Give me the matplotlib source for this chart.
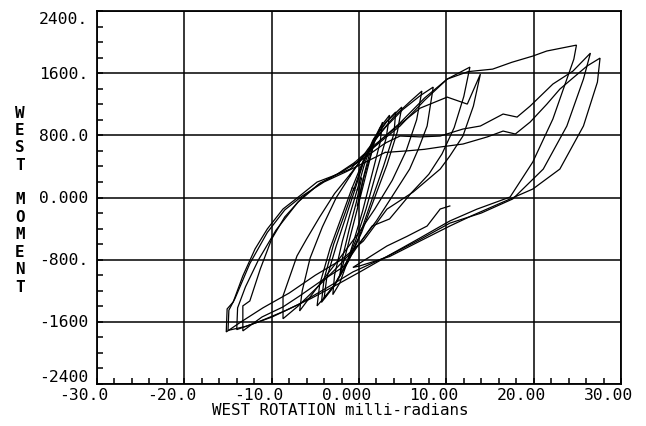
import matplotlib
matplotlib.use("Agg")
import matplotlib.pyplot as plt
from matplotlib.ticker import MultipleLocator
from matplotlib.transforms import blended_transform_factory, ScaledTranslation

# Ciclos de histeresis (rotacion en milli-radianes, momento)
c0_rot = [0.0, 0.6, 1.2, 1.8, 1.5, 0.7, -0.2, -1.0, -1.8, -2.2, -1.9, -1.1, -0.3, 0.3]
c0_mom = [0, 300, 560, 780, 600, 250, -150, -500, -850, -1000, -780, -400, -60, 250]

c1_rot = [-0.2, 0.5, 1.3, 1.9, 2.7, 2.4, 1.4, 0.4, -0.6, -1.4, -2.2, -3.0, -2.8, -1.9, -1.0, -0.2]
c1_mom = [-109, 238, 534, 760, 970, 700, 260, -180, -560, -850, -1100, -1250, -1000, -560, -200, 100]

c2_rot = [-0.2, 0.6, 1.5, 2.4, 3.5, 3.1, 2.0, 0.8, -0.4, -1.6, -2.8, -4.0, -3.7, -2.6, -1.5, -0.5]
c2_mom = [100, 420, 700, 900, 1060, 760, 330, -150, -560, -880, -1120, -1300, -1040, -620, -250, 90]

c3_rot = [-0.5, 0.5, 1.8, 3.2, 4.9, 4.4, 3.2, 1.8, 0.3, -1.2, -2.8, -4.8, -4.5, -3.3, -2.0, -0.8]
c3_mom = [90, 450, 760, 980, 1164, 850, 420, 0, -450, -820, -1130, -1395, -1120, -650, -250, 120]

c3b_rot = [-0.6, 0.4, 1.6, 3.0, 4.2, 4.0, 2.8, 1.5, 0.1, -1.4, -2.9, -4.3, -4.0, -2.9, -1.6, -0.6]
c3b_mom = [100, 430, 740, 960, 1100, 820, 400, -20, -480, -850, -1150, -1350, -1050, -600, -200, 120]

c4_rot = [-0.8, 0.5, 2.2, 4.0, 5.8, 7.2, 6.6, 5.4, 3.8, 1.8, 0.0, -2.2, -4.4, -6.8, -6.5, -5.6, -4.2, -2.6, -1.0]
c4_mom = [120, 480, 800, 1040, 1230, 1370, 1000, 600, 220, -150, -450, -780, -1100, -1460, -1200, -780, -380, 0, 280]

c5_rot = [-1.0, 1.0, 3.0, 5.0, 7.0, 8.5, 7.8, 6.8, 5.8, 4.0, 2.0, 0.0, -2.5, -5.0, -7.0, -8.7,
          -8.7, -7.1, -6.0, -4.5, -2.8, -1.0]
c5_mom = [280, 620, 900, 1130, 1310, 1421, 920, 624, 366, 50, -300, -600, -900, -1180, -1400, -1560,
          -1267, -752, -534, -250, 50, 300]

c6_rot = [-1.0, 0.5, 2.5, 4.7, 7.5, 10.1, 12.7, 12.0, 10.9, 9.5, 8.0, 6.0, 3.5, 1.5, 0.0, -1.8, -4.5,
          -6.8, -8.7, -11.1, -13.3, -13.3, -12.5, -11.3, -10.0, -8.5, -6.5, -4.5, -2.5, -0.5]
c6_mom = [300, 520, 740, 960, 1280, 1524, 1678, 1300, 900, 560, 300, 60, -276, -367, -600, -894, -1087,
          -1267, -1408, -1537, -1717, -1395, -1331, -919, -534, -250, 0, 180, 300, 450]

c7_rot = [-0.5, 1.5, 4.0, 7.0, 10.1, 12.4, 13.9, 13.1, 11.9, 10.4, 9.3, 6.2, 3.2, 0.5, -2.0, -5.0, -8.0,
          -11.0, -13.5, -15.2, -15.1, -14.4, -13.3, -11.9, -10.5, -8.7, -6.8, -4.8, -3.0, -1.0]
c7_mom = [450, 650, 880, 1150, 1292, 1202, 1588, 1177, 791, 534, 366, 70, -150, -560, -800, -1000, -1230,
          -1420, -1600, -1730, -1434, -1344, -1009, -662, -405, -148, 19, 199, 276, 366]

c8_rot = [-1.0, 0.5, 2.5, 4.7, 7.5, 10.1, 12.5, 15.3, 17.5, 19.9, 21.5, 24.9, 24.6, 23.8, 22.2, 19.9,
          17.3, 13.5, 10.4, 7.0, 3.5, 0.1, -2.5, -5.5, -8.5, -11.5, -14.0, -13.9, -13.0, -11.5, -9.5,
          -7.0, -4.5, -2.0, 0.5, 3.0]
c8_mom = [366, 534, 720, 920, 1250, 1524, 1620, 1652, 1740, 1820, 1885, 1961, 1780, 1524, 1010, 457,
          6, -150, -302, -520, -740, -958, -1120, -1300, -1460, -1600, -1700, -1420, -1150, -800, -420,
          -60, 180, 330, 500, 700]

c9_rot = [3.0, 4.7, 7.0, 9.3, 11.9, 13.9, 16.5, 18.1, 19.6, 22.2, 24.5, 26.5, 25.7, 23.8, 21.1, 17.6,
          14.0, 10.4, 7.0, 3.2, -0.7, -3.5, -7.0, -10.0, -13.0, -15.0, -14.9, -14.2, -12.5, -10.5,
          -8.5, -6.5, -4.0, -1.5, 1.0, 3.0]
c9_mom = [700, 791, 780, 791, 881, 920, 1074, 1035, 1177, 1460, 1627, 1858, 1524, 920, 366, -19,
          -200, -330, -540, -760, -958, -1150, -1380, -1540, -1660, -1710, -1450, -1300, -850, -450,
          -160, 20, 200, 330, 470, 580]

c10_rot = [3.0, 5.5, 7.5, 9.3, 11.9, 14.7, 16.5, 17.9, 19.6, 21.5, 23.0, 26.1, 27.6, 27.3, 25.7, 23.0,
           19.9, 17.3, 13.0, 10.4, 7.0, 3.5, 0.1, -0.7, 1.0, 3.2, 5.5, 7.8, 9.3, 10.4]
c10_mom = [580, 600, 620, 650, 688, 780, 855, 817, 971, 1200, 1395, 1691, 1794, 1485, 920, 366,
           109, -19, -230, -367, -560, -760, -880, -900, -780, -624, -500, -367, -148, -109]

ciclos = [(c0_rot, c0_mom), (c1_rot, c1_mom), (c2_rot, c2_mom), (c3_rot, c3_mom),
          (c3b_rot, c3b_mom), (c4_rot, c4_mom), (c5_rot, c5_mom), (c6_rot, c6_mom),
          (c7_rot, c7_mom), (c8_rot, c8_mom), (c9_rot, c9_mom), (c10_rot, c10_mom)]

x_ticks = [-30, -20, -10, 0, 10, 20, 30]
x_labels = ["-30.0", "-20.0", "-10.0", "0.000", "10.00", "20.00", "30.00"]
y_ticks = [-2400, -1600, -800, 0, 800, 1600, 2400]
y_labels = ["-2400", "-1600", "-800.", "0.000", "800.0", "1600.", "2400."]

fuente = "DejaVu Sans Mono"

fig = plt.figure(figsize=(6.46, 4.27), dpi=100)
ax = fig.add_axes([97 / 646, 1 - 385 / 427, 524 / 646, 373 / 427])

for rot, mom in ciclos:
    ax.plot(rot, mom, color="black", lw=0.9, solid_joinstyle="miter")

ax.set_xlim(-30, 30)
ax.set_ylim(-2400, 2400)
ax.set_xticks(x_ticks)
ax.set_yticks(y_ticks)
ax.xaxis.set_minor_locator(MultipleLocator(2))
ax.yaxis.set_minor_locator(MultipleLocator(200))
ax.grid(True, which="major", color="black", lw=1.1)
ax.tick_params(which="both", direction="in", top=False, right=False, length=4, width=1.1,
               labelbottom=False, labelleft=False)
for s in ax.spines.values():
    s.set_linewidth(1.3)

# Etiquetas de ticks desplazadas como en el grafico original
tx = blended_transform_factory(ax.transData, ax.transAxes)
for xv, lab in zip(x_ticks, x_labels):
    ax.text(xv, 0, lab, transform=tx + ScaledTranslation(0.12, -0.035, fig.dpi_scale_trans),
            ha="right", va="top", fontsize=11.8, family=fuente)

ty = blended_transform_factory(ax.transAxes, ax.transData)
for yv, lab in zip(y_ticks, y_labels):
    dy = 0.0
    if yv == y_ticks[-1]:
        dy = -0.08
    elif yv == y_ticks[0]:
        dy = 0.07
    ax.text(0, yv, lab, transform=ty + ScaledTranslation(-0.09, dy, fig.dpi_scale_trans),
            ha="right", va="center", fontsize=11.8, family=fuente)

fig.text(340 / 646, 1 - 411 / 427, "WEST ROTATION milli-radians", ha="center", va="center",
         fontsize=11.4, family=fuente)
fig.text(20 / 646, 1 - 200 / 427, "W\nE\nS\nT\n\nM\nO\nM\nE\nN\nT", ha="center", va="center",
         fontsize=11.5, family=fuente, fontweight="bold", linespacing=1.2)

plt.savefig("out.png", dpi=100)
